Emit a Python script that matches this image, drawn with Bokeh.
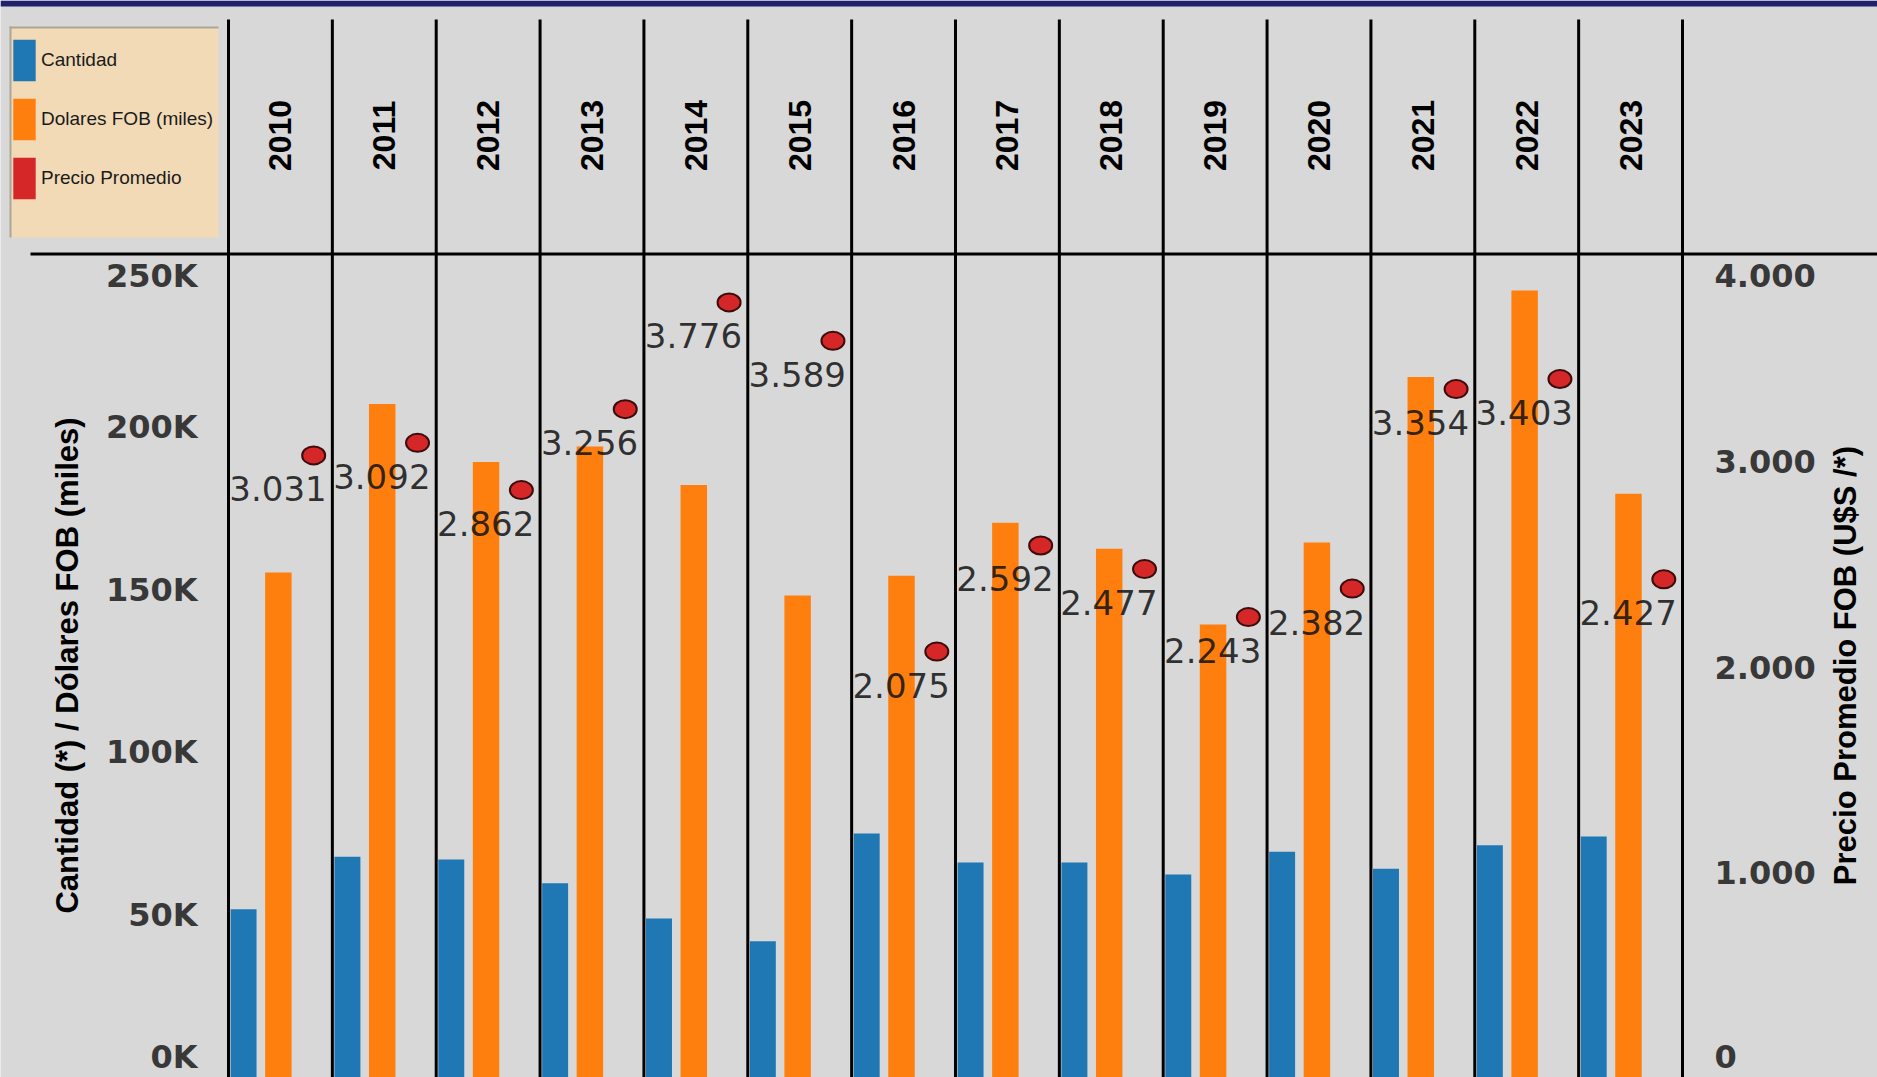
import math
from bokeh.plotting import figure
from bokeh.models import (ColumnDataSource, Range1d, LinearAxis, FixedTicker,
                          Legend, LegendItem, BoxAnnotation)
from bokeh.transform import dodge
from bokeh.core.properties import value
from bokeh.embed import file_html
from bokeh.resources import INLINE

# ---------------- data ----------------
years = ["2010", "2011", "2012", "2013", "2014", "2015", "2016",
         "2017", "2018", "2019", "2020", "2021", "2022", "2023"]
cantidad = [51700, 67900, 67000, 59700, 48900, 41900, 75000,
            66100, 66100, 62400, 69400, 64200, 71400, 74100]
dolares = [155300, 207100, 189300, 194000, 182200, 148200, 154300,
           170600, 162600, 139300, 164500, 215400, 242000, 179500]
precio = [3031, 3092, 2862, 3256, 3776, 3589, 2075,
          2592, 2477, 2243, 2382, 3354, 3403, 2427]
left_ticks = [0, 50000, 100000, 150000, 200000, 250000]
left_tick_labels = ["0K", "50K", "100K", "150K", "200K", "250K"]
right_ticks = [0, 1000, 2000, 3000, 4000]
right_tick_labels = ["0", "1.000", "2.000", "3.000", "4.000"]
series_names = ["Cantidad", "Dolares FOB (miles)", "Precio Promedio"]
left_title = "Cantidad (*) / Dólares FOB (miles)"
right_title = "Precio Promedio FOB (U$S /*)"

# ---------------- layout / style ----------------
W, H = 1877, 1077
BG = "#d8d8d8"
BLUE = "#1f77b4"
ORANGE = "#ff7f0e"
RED = "#d62728"
SANS = "'Liberation Sans', Arial, sans-serif"
WIDE = "'DejaVu Sans', sans-serif"

X0_PX, X1_PX = 228, 1682             # first / last category boundary (px)
CW = (X1_PX - X0_PX) / len(years)    # px per category
PPU_L = (H - 264) / 250000           # px per unit, left axis
PPU_R = (H - 256) / 4000             # px per unit, right axis
HEADER_PX = 253                       # header rule
TOP_PX = 19                           # top of separators


def yl(px):
    return (H - px) / PPU_L


def yr(px):
    return (H - px) / PPU_R


centers = [i + 0.5 for i in range(len(years))]
bounds = list(range(len(years) + 1))

src = ColumnDataSource(dict(
    year=years, xc=centers, cantidad=cantidad, dolares=dolares, precio=precio,
    precio_lbl=[f"{v:,}".replace(",", ".") for v in precio],
))

p = figure(width=W, height=H,
           x_range=Range1d(-X0_PX / CW, (W - X0_PX) / CW),
           y_range=Range1d(0, H / PPU_L),
           output_backend="svg", toolbar_location=None,
           x_axis_location=None, y_axis_location=None, title=None,
           min_border=0, min_border_left=0, min_border_right=0,
           min_border_top=0, min_border_bottom=0,
           background_fill_color=BG, border_fill_color=BG,
           outline_line_color=None)
p.grid.visible = False
p.extra_y_ranges = {"precio": Range1d(0, H / PPU_R)}


def style_axis(ax, standoff):
    ax.axis_line_color = None
    ax.major_tick_line_color = None
    ax.minor_tick_line_color = None
    ax.major_label_standoff = standoff
    ax.major_label_text_font = WIDE
    ax.major_label_text_font_style = "bold"
    ax.major_label_text_font_size = "32px"
    ax.major_label_text_color = "#383838"
    ax.axis_label_text_font = SANS
    ax.axis_label_text_font_style = "bold"
    ax.axis_label_text_font_size = "31px"
    ax.axis_label_text_color = "black"


# left axis (edge labels nudged inward like the reference)
lt = list(left_ticks)
lt[0] = yl(1056)
lt[-1] = yl(275)
la = LinearAxis(ticker=FixedTicker(ticks=lt), fixed_location=0,
                bounds=(0, yl(HEADER_PX)), axis_label=left_title,
                axis_label_standoff=18)
la.major_label_overrides = dict(zip(lt, left_tick_labels))
style_axis(la, 25)
p.add_layout(la, "left")

# right axis
rt = list(right_ticks)
rt[0] = yr(1056)
rt[-1] = yr(275)
ra = LinearAxis(y_range_name="precio", ticker=FixedTicker(ticks=rt),
                fixed_location=len(years), bounds=(0, yr(HEADER_PX)))
ra.major_label_overrides = dict(zip(rt, right_tick_labels))
style_axis(ra, 26)
p.add_layout(ra, "right")

# right axis title (reads bottom-to-top as in the reference)
rta = LinearAxis(y_range_name="precio", ticker=FixedTicker(ticks=[]),
                 fixed_location=(W - X0_PX) / CW, bounds=(0, yr(HEADER_PX)),
                 axis_label=right_title, axis_label_standoff=15)
style_axis(rta, 0)
p.add_layout(rta, "left")

# vertical separators at category boundaries
p.segment(x0=bounds, y0=0, x1=bounds, y1=yl(TOP_PX), line_color="black", line_width=3)

# bars
blue = p.vbar(x=dodge("xc", -0.355), top="cantidad", width=0.25,
              source=src, fill_color=BLUE, line_color=None)
orange = p.vbar(x=dodge("xc", -0.02), top="dolares", width=0.255,
                source=src, fill_color=ORANGE, line_color=None)
# zero-area bars: only provide the red key in the legend
red_key = p.vbar(x="xc", top=0, bottom=0, width=0, source=src,
                 fill_color=RED, line_color=None)

# price points and labels
p.ellipse(x=dodge("xc", 0.32), y="precio", width=23, height=18,
          width_units="screen", height_units="screen", y_range_name="precio",
          source=src, fill_color=RED, line_color="#3a0c0c", line_width=2)
p.text(x=dodge("xc", 0.32), y="precio", text="precio_lbl",
       y_range_name="precio", source=src, x_offset=13, y_offset=21,
       text_align="right", text_baseline="top", text_font=value("DejaVu Sans"),
       text_font_size="34px", text_color="#111111", text_alpha=0.85)

# year header labels
p.text(x="xc", y=yl(135), text="year", source=src, angle=math.pi / 2,
       text_align="center", text_baseline="middle", text_font=value(SANS),
       text_font_style="bold", text_font_size="32px", text_color="black")


# header rule, top band and legend box (canvas units)
def cbox(l, r, t, b, color):
    return BoxAnnotation(left=l, right=r, top=t, bottom=b,
                         left_units="canvas", right_units="canvas",
                         top_units="canvas", bottom_units="canvas",
                         fill_color=color, fill_alpha=1.0, line_color=None)


p.add_layout(cbox(0, W, 0, 6, "#21216b"))
p.add_layout(cbox(30, W, HEADER_PX - 1, HEADER_PX + 2, "black"))
p.add_layout(cbox(9, 218, 26, 237, "#f2dab7"))
p.add_layout(cbox(9, 218, 26, 28, "#a9a79b"))
p.add_layout(cbox(9, 11, 26, 237, "#a9a79b"))

legend = Legend(items=[LegendItem(label=series_names[0], renderers=[blue]),
                       LegendItem(label=series_names[1], renderers=[orange]),
                       LegendItem(label=series_names[2], renderers=[red_key])],
                location=(10, 873), background_fill_alpha=0,
                border_line_color=None, padding=8, margin=0, spacing=7,
                glyph_width=28, glyph_height=52, label_standoff=3,
                label_text_font=SANS, label_text_font_size="19px",
                label_text_color="#1a1a1a")
p.add_layout(legend)

open("out.html", "w").write(file_html(p, INLINE))
